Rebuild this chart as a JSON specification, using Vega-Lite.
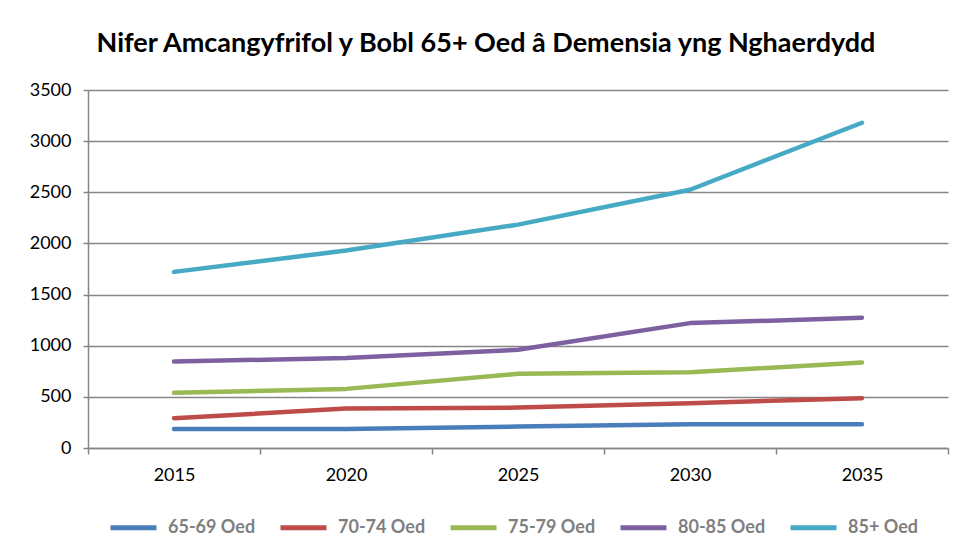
{
  "$schema": "https://vega.github.io/schema/vega-lite/v6.json",
  "width": 860,
  "height": 358,
  "autosize": {"type": "none"},
  "padding": {"left": 88, "top": 90, "right": 17, "bottom": 106},
  "background": "white",
  "title": {
    "text": "Nifer Amcangyfrifol y Bobl 65+ Oed â Demensia yng Nghaerdydd",
    "font": "Lato",
    "fontSize": 27,
    "fontWeight": "bold",
    "color": "#000000",
    "anchor": "middle",
    "dx": -32,
    "offset": 23
  },
  "data": {
    "values": [
      {"year": "2015", "group": "65-69 Oed", "value": 186},
      {"year": "2020", "group": "65-69 Oed", "value": 186},
      {"year": "2025", "group": "65-69 Oed", "value": 209},
      {"year": "2030", "group": "65-69 Oed", "value": 233},
      {"year": "2035", "group": "65-69 Oed", "value": 232},
      {"year": "2015", "group": "70-74 Oed", "value": 291},
      {"year": "2020", "group": "70-74 Oed", "value": 385},
      {"year": "2025", "group": "70-74 Oed", "value": 395},
      {"year": "2030", "group": "70-74 Oed", "value": 438},
      {"year": "2035", "group": "70-74 Oed", "value": 487},
      {"year": "2015", "group": "75-79 Oed", "value": 539},
      {"year": "2020", "group": "75-79 Oed", "value": 578},
      {"year": "2025", "group": "75-79 Oed", "value": 725},
      {"year": "2030", "group": "75-79 Oed", "value": 741},
      {"year": "2035", "group": "75-79 Oed", "value": 835},
      {"year": "2015", "group": "80-85 Oed", "value": 845},
      {"year": "2020", "group": "80-85 Oed", "value": 880},
      {"year": "2025", "group": "80-85 Oed", "value": 960},
      {"year": "2030", "group": "80-85 Oed", "value": 1221},
      {"year": "2035", "group": "80-85 Oed", "value": 1273},
      {"year": "2015", "group": "85+ Oed", "value": 1722},
      {"year": "2020", "group": "85+ Oed", "value": 1930},
      {"year": "2025", "group": "85+ Oed", "value": 2184},
      {"year": "2030", "group": "85+ Oed", "value": 2525},
      {"year": "2035", "group": "85+ Oed", "value": 3180}
    ]
  },
  "mark": {"type": "line", "strokeWidth": 4.5, "strokeCap": "round", "strokeJoin": "round"},
  "encoding": {
    "x": {
      "field": "year",
      "type": "ordinal",
      "bandPosition": 0.5,
      "scale": {"type": "band", "paddingInner": 0, "paddingOuter": 0},
      "axis": {
        "title": null,
        "labelAngle": 0,
        "tickBand": "extent",
        "grid": false,
        "domainColor": "#868686",
        "domainWidth": 1.5,
        "tickColor": "#868686",
        "tickWidth": 1.5,
        "tickSize": 6,
        "labelPadding": 12,
        "labelFont": "Lato",
        "labelFontSize": 18,
        "labelColor": "#000000"
      }
    },
    "y": {
      "field": "value",
      "type": "quantitative",
      "scale": {"domain": [0, 3500], "nice": false},
      "axis": {
        "title": null,
        "values": [0, 500, 1000, 1500, 2000, 2500, 3000, 3500],
        "format": "d",
        "grid": true,
        "gridColor": "#868686",
        "gridWidth": 1.5,
        "domainColor": "#868686",
        "domainWidth": 1.5,
        "tickColor": "#868686",
        "tickWidth": 1.5,
        "tickSize": 5,
        "labelPadding": 12,
        "labelFont": "Lato",
        "labelFontSize": 18,
        "labelColor": "#000000"
      }
    },
    "color": {
      "field": "group",
      "type": "nominal",
      "scale": {
        "domain": ["65-69 Oed", "70-74 Oed", "75-79 Oed", "80-85 Oed", "85+ Oed"],
        "range": ["#4A7EBB", "#BE4B48", "#98B954", "#7D60A0", "#46AAC5"]
      },
      "legend": {
        "title": null,
        "orient": "none",
        "direction": "horizontal",
        "legendX": 20,
        "legendY": 412,
        "symbolType": "stroke",
        "symbolStrokeWidth": 5,
        "symbolSize": 2116,
        "labelFont": "Lato",
        "labelFontSize": 18,
        "labelFontWeight": "bold",
        "labelColor": "#7F7F7F",
        "labelOffset": 9,
        "columnPadding": 14,
        "padding": 0
      }
    }
  },
  "config": {
    "view": {"stroke": null}
  }
}
